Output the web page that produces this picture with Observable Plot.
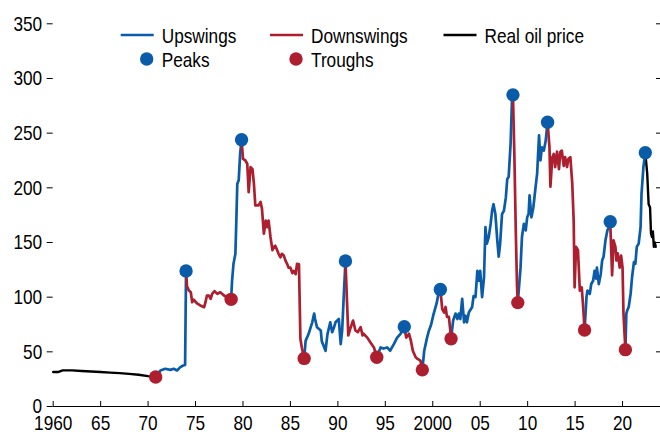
<!DOCTYPE html>
<html>
<head>
<meta charset="utf-8">
<script src="https://cdn.jsdelivr.net/npm/d3@7"></script>
<script src="https://cdn.jsdelivr.net/npm/@observablehq/plot@0.6"></script>
<style>
  html, body { margin: 0; padding: 0; background: #fff; }
  #chart { width: 660px; height: 434px; }
</style>
</head>
<body>
<div id="chart"></div>
<script>
// ---- Data (year, index value) ----
const realOilStart = [[1960,31.5],[1960.5,31.5],[1961,33],[1962,33],[1963,32.5],[1964,32],[1965,31.5],[1966,31],[1967,30.5],[1968,29.8],[1969,29],[1970,27.8],[1970.8,27]];

const upswing1 = [[1970.8,27],[1971.3,33],[1971.8,34.5],[1972.35,33.5],[1972.7,34.5],[1973.05,33],[1973.4,36],[1973.7,37.5],[1973.9,38],[1974.0,124]];
const downswing1 = [[1974.0,124],[1974.1,110],[1974.3,106],[1974.5,104.5],[1974.65,95.4],[1974.8,97.6],[1975.2,94],[1975.5,92.4],[1975.9,90.8],[1976.05,95.4],[1976.2,101.5],[1976.4,101.5],[1976.6,98.5],[1976.75,103],[1977.0,105.5],[1977.3,103],[1977.6,104.5],[1978.0,101.5],[1978.3,100],[1978.75,98]];
const upswing2 = [[1978.75,98],[1978.85,115],[1979.0,130.5],[1979.2,139.6],[1979.3,170],[1979.4,203.7],[1979.55,207],[1979.7,231],[1979.85,244]];
const downswing2 = [[1979.85,244],[1980.0,226.5],[1980.25,225],[1980.45,222],[1980.6,196],[1980.8,219],[1981.0,217],[1981.15,204],[1981.3,184],[1981.65,184],[1981.85,187],[1982.0,181],[1982.2,158],[1982.4,170],[1982.55,164],[1982.7,170],[1982.9,155],[1983.1,143],[1983.25,146],[1983.4,147],[1983.6,143],[1983.75,139.6],[1983.95,136.5],[1984.1,139.6],[1984.3,138],[1984.5,133],[1984.65,130.5],[1984.8,127],[1985.0,127],[1985.2,122],[1985.35,124],[1985.55,121],[1985.7,130.5],[1985.9,130],[1986.05,62],[1986.2,54],[1986.45,44]];
const upswing3 = [[1986.45,44],[1986.6,60],[1986.9,66],[1987.3,77],[1987.5,85],[1987.6,80],[1987.8,72.5],[1988.2,69.5],[1988.3,60],[1988.7,51],[1988.9,66],[1989.2,77],[1989.4,68],[1989.6,72.5],[1989.75,77],[1990.1,80],[1990.3,57],[1990.45,69.5],[1990.6,97],[1990.8,133]];
const downswing3 = [[1990.8,133],[1991.1,65],[1991.3,71],[1991.6,78.6],[1991.85,69.5],[1992.1,68],[1992.4,72.5],[1992.6,65],[1992.7,66.5],[1993.1,63],[1993.4,59],[1993.8,54],[1994.1,45]];
const upswing4 = [[1994.1,45],[1994.5,54],[1994.8,53],[1995.2,54],[1995.5,51],[1995.9,57],[1996.25,63],[1996.6,66.5],[1997.0,73]];
const downswing4 = [[1997.0,73],[1997.2,63],[1997.5,66.5],[1997.7,60],[1997.9,51],[1998.2,45],[1998.4,43.5],[1998.7,42],[1998.9,33.5]];
const upswing5 = [[1998.9,33.5],[1999.1,51],[1999.4,63],[1999.6,69.5],[1999.8,74],[2000.1,85],[2000.4,94],[2000.6,103],[2000.8,107]];
const downswing5 = [[2000.8,107],[2001.0,89],[2001.2,86],[2001.35,91],[2001.5,82],[2001.7,82],[2001.85,69.5],[2001.93,62]];
const upswing6 = [[2001.93,62],[2002.15,78.6],[2002.4,85],[2002.6,80],[2002.75,85],[2002.9,80],[2003.1,98.5],[2003.3,77],[2003.45,83],[2003.6,77],[2003.8,86],[2004.15,91],[2004.3,101],[2004.5,100],[2004.7,124],[2004.85,115],[2005.0,124],[2005.2,100],[2005.4,118],[2005.55,164],[2005.7,149],[2005.9,155],[2006.1,167],[2006.25,179],[2006.4,185],[2006.6,176],[2006.8,152],[2006.95,137],[2007.1,149],[2007.3,176],[2007.5,179],[2007.7,191],[2007.85,208],[2008.0,210],[2008.2,240],[2008.35,280],[2008.45,285]];
const downswing6 = [[2008.45,285],[2008.6,230],[2008.75,160],[2008.88,110],[2008.96,95]];
const upswing7 = [[2008.96,95],[2009.25,127],[2009.4,155],[2009.6,167],[2009.8,161],[2009.95,173],[2010.1,176],[2010.2,193],[2010.4,173],[2010.6,182],[2010.8,198],[2011.0,213],[2011.2,248],[2011.35,225],[2011.5,237],[2011.7,234],[2011.9,243],[2012.1,260]];
const downswing7 = [[2012.1,260],[2012.3,237],[2012.4,201],[2012.6,228],[2012.75,231],[2012.9,219],[2013.1,233],[2013.3,217],[2013.45,233],[2013.6,234],[2013.8,220],[2013.95,228],[2014.15,219],[2014.3,226.5],[2014.5,228],[2014.7,204],[2014.85,170],[2014.95,109],[2015.1,146],[2015.3,143],[2015.5,106],[2015.7,109],[2015.85,91],[2016.0,70]];
const upswing8 = [[2016.0,70],[2016.2,100],[2016.3,106],[2016.55,103],[2016.7,112],[2016.9,115],[2017.05,124],[2017.2,117],[2017.3,127],[2017.5,112],[2017.7,121],[2017.85,133.5],[2018.0,137],[2018.2,152],[2018.4,161],[2018.55,164],[2018.7,169]];
const downswing8 = [[2018.7,169],[2018.9,120],[2019.05,152],[2019.25,146],[2019.35,133.5],[2019.5,140],[2019.7,127],[2019.85,138],[2020.0,127],[2020.1,85],[2020.3,52]];
const upswing9 = [[2020.3,52],[2020.4,85],[2020.5,88],[2020.65,91],[2020.85,103],[2021.0,118],[2021.2,132],[2021.35,130.5],[2021.5,146],[2021.7,149],[2021.9,164],[2022.0,194.5],[2022.2,219],[2022.4,232]];
const realOilEnd = [[2022.4,232],[2022.6,213],[2022.75,185],[2022.9,182],[2023.0,158],[2023.1,155],[2023.2,160],[2023.3,146],[2023.4,150],[2023.5,146]];

const peaks = [[1974.0,124],[1979.85,244],[1990.8,133],[1997.0,73],[2000.8,107],[2008.45,285],[2012.1,260],[2018.7,169],[2022.4,232]];
const troughs = [[1970.8,27],[1978.75,98],[1986.45,44],[1994.1,45],[1998.9,33.5],[2001.93,62],[2008.96,95],[2016.0,70],[2020.3,52]];

const upswings = [upswing1, upswing2, upswing3, upswing4, upswing5, upswing6, upswing7, upswing8, upswing9];
const downswings = [downswing1, downswing2, downswing3, downswing4, downswing5, downswing6, downswing7, downswing8];
const realOil = [realOilStart, realOilEnd];

const yTicks = [0, 50, 100, 150, 200, 250, 300, 350];
const xTicks = [1960, 1965, 1970, 1975, 1980, 1985, 1990, 1995, 2000, 2005, 2010, 2015, 2020];
const xTickLabels = ["1960", "65", "70", "75", "80", "85", "90", "95", "2000", "05", "10", "15", "20"];
const legendLabels = {up: "Upswings", down: "Downswings", real: "Real oil price", peaks: "Peaks", troughs: "Troughs"};

// ---- Styling ----
const BLUE = "#0a5ca8";
const RED = "#ad1f2f";
const FONT = "'Liberation Sans', Arial, sans-serif";
const FS = 21;
const NARROW = 0.82; // horizontal compression to mimic a narrow face

const toRows = (segments, kind) => segments.flatMap((seg, i) => seg.map(([x, y]) => ({x, y, seg: kind + i})));
const upRows = toRows(upswings, "up");
const downRows = toRows(downswings, "down");
const realRows = toRows(realOil, "real");
const peakRows = peaks.map(([x, y]) => ({x, y}));
const troughRows = troughs.map(([x, y]) => ({x, y}));

const chart = Plot.plot({
  width: 660,
  height: 434,
  marginLeft: 52.7,
  marginRight: 0,
  marginTop: 23.3,
  marginBottom: 28,
  style: {fontFamily: FONT, fontSize: FS + "px", background: "#fff", color: "#000"},
  x: {domain: [1960, 2024], label: null},
  y: {domain: [0, 350], label: null},
  marks: [
    Plot.axisY({ticks: yTicks, tickSize: 6, tickPadding: 5, fontSize: FS, label: null, tickFormat: d => String(d)}),
    Plot.axisY({anchor: "right", ticks: yTicks, tickSize: -5, tickFormat: () => "", label: null}),
    Plot.axisX({ticks: xTicks, tickSize: -5, tickPadding: 13.5, fontSize: FS, label: null,
      tickFormat: d => xTickLabels[xTicks.indexOf(d)]}),
    Plot.ruleY([0], {stroke: "#000", strokeWidth: 1}),
    Plot.line(realRows, {x: "x", y: "y", z: "seg", stroke: "#000", strokeWidth: 2.4}),
    Plot.line(upRows, {x: "x", y: "y", z: "seg", stroke: BLUE, strokeWidth: 2.7}),
    Plot.line(downRows, {x: "x", y: "y", z: "seg", stroke: RED, strokeWidth: 2.7}),
    Plot.dot(peakRows, {x: "x", y: "y", r: 6.7, fill: BLUE, stroke: "none"}),
    Plot.dot(troughRows, {x: "x", y: "y", r: 6.7, fill: RED, stroke: "none"})
  ]
});

// ---- Legend (inside the plot area, top) ----
const svg = d3.select(chart);
const lg = svg.append("g").attr("font-family", FONT).attr("font-size", FS).attr("fill", "#000").attr("text-anchor", "start");
const legendItems = [
  {type: "line", color: BLUE, label: legendLabels.up, x: 120.7, y: 35},
  {type: "line", color: RED, label: legendLabels.down, x: 270, y: 35},
  {type: "line", color: "#000", label: legendLabels.real, x: 443.5, y: 35},
  {type: "dot", color: BLUE, label: legendLabels.peaks, x: 120.7, y: 59},
  {type: "dot", color: RED, label: legendLabels.troughs, x: 270, y: 59}
];
for (const it of legendItems) {
  if (it.type === "line") {
    lg.append("line").attr("x1", it.x).attr("x2", it.x + 33).attr("y1", it.y).attr("y2", it.y)
      .attr("stroke", it.color).attr("stroke-width", 2.7);
  } else {
    lg.append("circle").attr("cx", it.x + 26).attr("cy", it.y).attr("r", 6.7).attr("fill", it.color);
  }
  lg.append("text").attr("x", it.x + 41).attr("y", it.y).attr("dy", "0.36em").text(it.label);
}

document.getElementById("chart").appendChild(chart);

// Compress all texts horizontally (narrow look) while keeping their anchors
svg.selectAll("text").each(function () {
  const t = this;
  if (!t.textContent) return;
  const len = t.getComputedTextLength();
  if (len > 0) {
    t.setAttribute("textLength", (len * NARROW).toFixed(2));
    t.setAttribute("lengthAdjust", "spacingAndGlyphs");
  }
});
</script>
</body>
</html>
